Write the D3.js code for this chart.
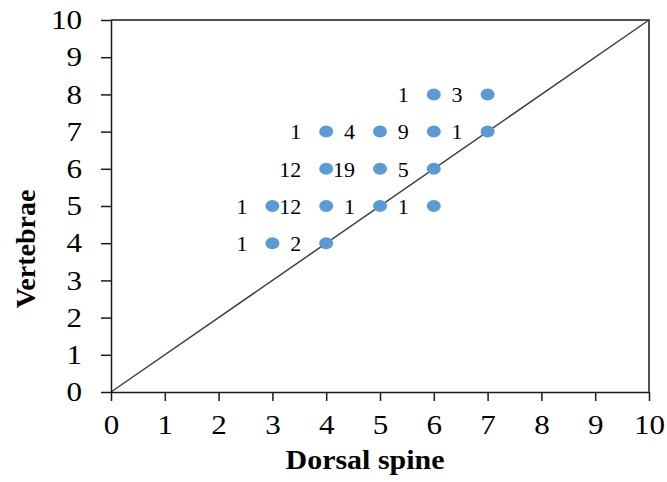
<!DOCTYPE html>
<html>
<head>
<meta charset="utf-8">
<script src="https://cdn.jsdelivr.net/npm/d3@7"></script>
<style>
html,body{margin:0;padding:0;background:#fff;}
svg text{font-family:"Liberation Serif","Times New Roman",serif;fill:#000;}
</style>
</head>
<body>
<svg id="chart" width="667" height="482"></svg>
<script>
// Data: dorsal spine count (x), vertebrae count (y), number of specimens (label)
const dorsalSpine = [3, 4, 3, 4, 5, 6, 4, 5, 6, 4, 5, 6, 7, 6, 7];
const vertebrae   = [4, 4, 5, 5, 5, 5, 6, 6, 6, 7, 7, 7, 7, 8, 8];
const counts      = [1, 2, 1, 12, 1, 1, 12, 19, 5, 1, 4, 9, 1, 1, 3];
const xTicks = [0,1,2,3,4,5,6,7,8,9,10];
const yTicks = [0,1,2,3,4,5,6,7,8,9,10];
const refLine = [0, 10];

(function(){
const svg = d3.select("#chart");
const mL = 111, mR = 649, mT = 20, mB = 392;
const x = d3.scaleLinear().domain([0,10]).range([mL,mR]);
const y = d3.scaleLinear().domain([0,10]).range([mB,mT]);
const sx = 1.15;

// plot border (top/right)
svg.append("path")
  .attr("d", `M${mL},${mT}H${mR}V${mB}`)
  .attr("fill","none").attr("stroke","#1a1a1a").attr("stroke-width",1.5);

// diagonal reference line
svg.append("line")
  .attr("x1", x(refLine[0])).attr("y1", y(refLine[0]))
  .attr("x2", x(refLine[1])).attr("y2", y(refLine[1]))
  .attr("stroke","#404040").attr("stroke-width",1.5);

// axes
const xAxis = d3.axisBottom(x).tickValues(xTicks).tickSize(9).tickSizeOuter(0).tickPadding(14);
const yAxis = d3.axisLeft(y).tickValues(yTicks).tickSize(10).tickSizeOuter(0).tickPadding(19);

const gx = svg.append("g").attr("transform",`translate(0,${mB})`).call(xAxis);
const gy = svg.append("g").attr("transform",`translate(${mL},0)`).call(yAxis);
[gx,gy].forEach(g=>{
  g.select(".domain").attr("stroke","#1a1a1a").attr("stroke-width",1.5);
  g.selectAll(".tick line").attr("stroke","#1a1a1a").attr("stroke-width",1.5);
  g.selectAll(".tick text").attr("font-family","Liberation Serif").attr("font-size",27).attr("fill","#000");
});
gx.selectAll(".tick text").attr("transform",`scale(${sx},1)`).attr("y", 23/1);
gy.selectAll(".tick text").attr("x",0).attr("transform",`translate(-29,0) scale(${sx},1)`);

// points
const pts = dorsalSpine.map((d,i)=>({x:d, y:vertebrae[i], n:counts[i]}));
svg.append("g").selectAll("ellipse").data(pts).join("ellipse")
  .attr("cx", d=>x(d.x)).attr("cy", d=>y(d.y))
  .attr("rx",7).attr("ry",6).attr("fill","#5B9BD5");

// data labels (left of point)
svg.append("g").selectAll("text").data(pts).join("text")
  .attr("x", d=>x(d.x)-25).attr("y", d=>y(d.y))
  .attr("dy","0.35em").attr("text-anchor","end")
  .attr("font-size",22).text(d=>d.n);

// axis titles
svg.append("text").attr("transform","translate(365,469) scale(1.07,1)").attr("text-anchor","middle")
  .attr("font-size",28).attr("font-weight","bold").text("Dorsal spine");
svg.append("text").attr("transform","translate(35,249) rotate(-90)").attr("text-anchor","middle")
  .attr("font-size",28).attr("font-weight","bold").text("Vertebrae");
})();
</script>
</body>
</html>
